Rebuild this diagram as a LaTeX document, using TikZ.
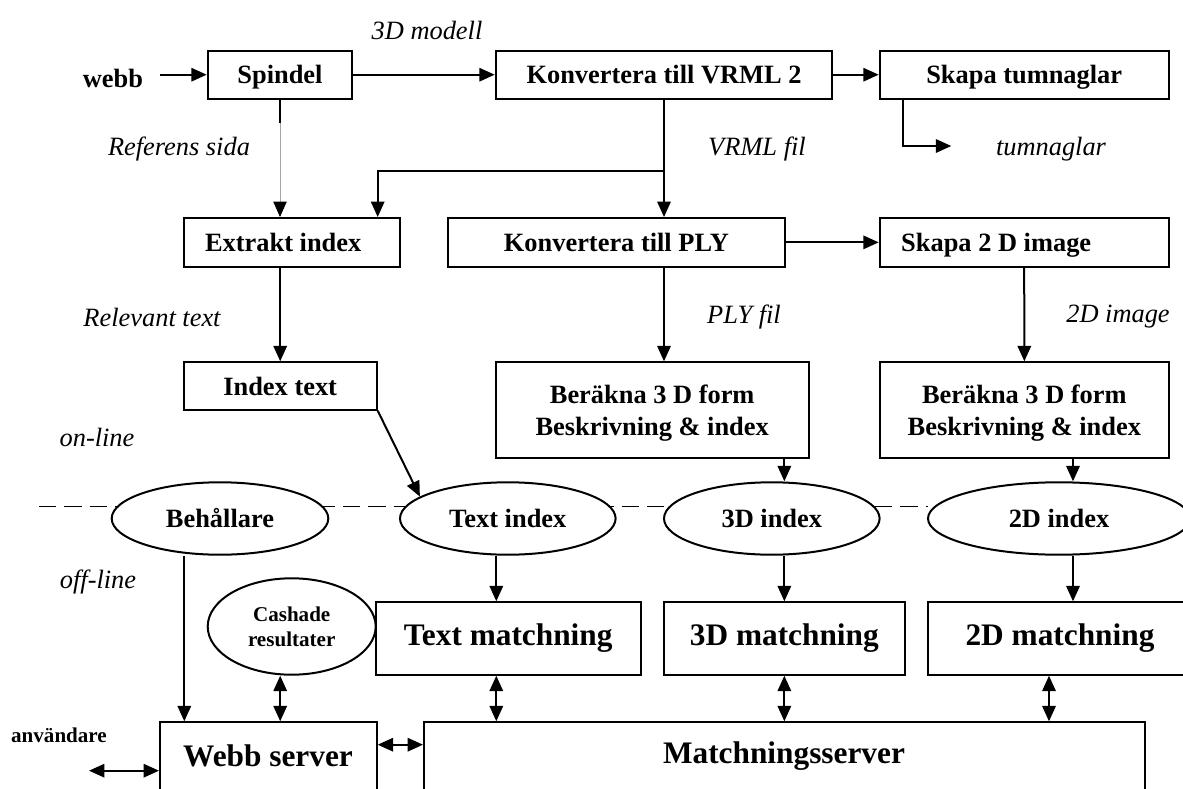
\documentclass[tikz,border=0pt]{standalone}
\usepackage{fontspec}
\setmainfont{Liberation Serif}
\usetikzlibrary{arrows.meta,shapes.geometric,calc}
\newcommand{\mkbox}[7]{\node[#1, minimum width={(#5-#3)*0.75pt}, minimum height={(#6-#4)*0.75pt}] (#2) at ({(#3+#5)/2},{(#4+#6)/2}) {#7};}
\newcommand{\mkell}[6]{\node[ell, minimum width={#4*1.5pt}, minimum height={#5*1.5pt}] (#1) at (#2,#3) {#6};}
\begin{document}
\begin{tikzpicture}[x=0.75pt,y=-0.75pt,
  basebox/.style={draw, line width=1.5pt, fill=white, inner sep=0pt, align=center},
  mybox/.style={basebox, text depth=0pt,
    font=\fontsize{19.8pt}{24pt}\selectfont\bfseries},
  bigbox/.style={basebox, font=\fontsize{23.5pt}{28pt}\selectfont\bfseries},
  ell/.style={ellipse, draw, line width=1.5pt, fill=white, inner sep=0pt, align=center,
    font=\fontsize{19.8pt}{24pt}\selectfont\bfseries},
  lbl/.style={inner sep=0pt, font=\fontsize{19.8pt}{24pt}\selectfont\itshape},
  blbl/.style={inner sep=0pt, font=\fontsize{19.8pt}{24pt}\selectfont\bfseries},
  slbl/.style={inner sep=0pt, font=\fontsize{15.8pt}{19pt}\selectfont\bfseries},
  biglbl/.style={inner sep=0pt, font=\fontsize{23.5pt}{28pt}\selectfont\bfseries},
  arr/.style={line width=1.5pt, -{Triangle[length=11.5pt,width=10pt]}},
  darr/.style={line width=1.5pt, {Triangle[length=11.5pt,width=10pt]}-{Triangle[length=11.5pt,width=10pt]}},
  dline/.style={line width=1.2pt, dash pattern=on 13pt off 6pt}
]
\useasboundingbox (0,0) rectangle (1183,789);
\clip (0,0) rectangle (1183,789);

% dashed on-line / off-line separator
\coordinate (dstart) at (39,506.3);
\coordinate (dend) at (928,506.3);
\draw[dline] (dstart) -- (dend);

% boxes
\mkbox{mybox}{spindel}{207.7}{50.7}{352.3}{98.7}{Spindel}
\mkbox{mybox}{vrml}{495.7}{50.7}{832.3}{98.7}{Konvertera till VRML 2}
\mkbox{mybox}{tumn}{879.7}{50.7}{1168.7}{98.7}{Skapa tumnaglar}
\mkbox{mybox}{extrakt}{183.7}{218}{400}{266.7}{Extrakt index\hspace*{13pt}}
\mkbox{mybox}{ply}{448}{218}{784.7}{266.7}{Konvertera till PLY}
\mkbox{mybox}{skapa2d}{879.7}{218}{1168.7}{266.7}{Skapa 2 D image\hspace*{42pt}}
\mkbox{mybox}{itext}{183.7}{362.3}{376.7}{409.7}{Index text}
\mkbox{mybox}{ber1}{495.7}{362.3}{808.7}{458}{Beräkna 3 D form\\Beskrivning \& index}
\mkbox{mybox}{ber2}{880}{362.3}{1168.7}{458}{Beräkna 3 D form\\Beskrivning \& index}
\mkbox{bigbox}{tmatch}{375.7}{602.3}{640.7}{674.7}{Text matchning}
\mkbox{bigbox}{mat3d}{664}{602.3}{904.7}{674.7}{3D matchning}
\mkbox{bigbox}{mat2d}{928}{602.3}{1192}{674.7}{2D matchning}
\mkbox{bigbox}{ws}{160}{722.3}{376.7}{810}{}
\mkbox{bigbox}{ms}{424}{722.3}{1144.7}{810}{}
\node[biglbl] (wslbl) at (268,756) {Webb server};
\node[biglbl] (mslbl) at (784,756) {Matchningsserver};

% ellipses
\mkell{beh}{220}{518.5}{108.3}{36.2}{Behållare}
\mkell{tidx}{507.8}{518.5}{107.8}{36.2}{Text index}
\mkell{idx3d}{771.8}{518.5}{107.8}{36.2}{3D index}
\mkell{idx2d}{1059}{518.5}{131}{36.2}{2D index}
\node[ell, minimum width={84*1.5pt}, minimum height={48.2*1.5pt},
  font=\fontsize{15.8pt}{18.75pt}\selectfont\bfseries] (cash) at (291.7,626.5) {Cashade\\resultater};

% text labels
\node[blbl] (webb) at (113,78) {webb};
\node[lbl] (l3d) at (427,30) {3D modell};
\node[lbl] (lref) at (179,149) {Referens sida};
\node[lbl] (lvrml) at (757,149) {VRML fil};
\node[lbl] (ltumn) at (1051,149) {tumnaglar};
\node[lbl] (lrel) at (152,317) {Relevant text};
\node[lbl] (lply) at (744,317) {PLY fil};
\node[lbl] (l2d) at (1118,317) {2D image};
\node[lbl] (lon) at (97,437) {on-line};
\node[lbl] (loff) at (98,582) {off-line};
\node[slbl] (user) at (59,735) {användare};

% helper coordinates
\coordinate (tumnend) at (951.3,146);
\coordinate (c2d) at (1073,0);
\coordinate (c2dm) at (1049,0);
\coordinate (ctm) at (496.3,0);
\coordinate (cb) at (184.3,0);
\coordinate (uend) at (89,770.7);

% connectors
\draw[arr] ($(webb.east |- spindel.west)+(17,0)$) -- (spindel.west);
\draw[arr] (spindel.east) -- (vrml.west);
\draw[arr] (vrml.east) -- (tumn.west);
\draw[arr] ($(tumn.south west)+(24.3,0)$) |- (tumnend);
\draw[line width=0.6pt, draw=gray!70, -{Triangle[length=11.5pt,width=10pt,color=black]}] (spindel.south) -- (spindel.south |- extrakt.north);
\draw[line width=1.5pt] (spindel.south) -- ++(0,23.3);
\draw[arr] (vrml.south) -- (vrml.south |- ply.north);
\coordinate (br) at ($(vrml.south)+(0,71.3)$);
\draw[arr] (br) -| (itext.east |- extrakt.north);
\draw[arr] (ply.east) -- (skapa2d.west);
\draw[arr] (itext.north |- extrakt.south) -- (itext.north);
\draw[arr] (vrml.south |- ply.south) -- (vrml.south |- ber1.north);
\draw[arr] (skapa2d.south) -- (ber2.north);
\draw[arr] (mat3d.north |- ber1.south) -- (mat3d.north |- idx3d.north);
\draw[arr] (c2d |- ber2.south) -- (c2d |- idx2d.north);
\draw[arr] (itext.south east) -- (tidx.166);
\draw[arr] (ctm |- tidx.south) -- (ctm |- tmatch.north);
\draw[arr] (mat3d.north |- idx3d.south) -- (mat3d.north);
\draw[arr] (c2d |- idx2d.south) -- (c2d |- mat2d.north);
\draw[arr] (cb |- beh.south) -- (cb |- ws.north);
\draw[darr] (itext.south |- cash.south) -- (itext.south |- ws.north);
\draw[darr] (ctm |- tmatch.south) -- (ctm |- ms.north);
\draw[darr] (mat3d.south) -- (mat3d.south |- ms.north);
\draw[darr] (c2dm |- mat2d.south) -- (c2dm |- ms.north);
\draw[darr] ($(ws.north east)+(0,23.4)$) -- ($(ms.north west)+(0,23.4)$);
\draw[darr] (uend) -- (uend -| ws.west);
\end{tikzpicture}
\end{document}
